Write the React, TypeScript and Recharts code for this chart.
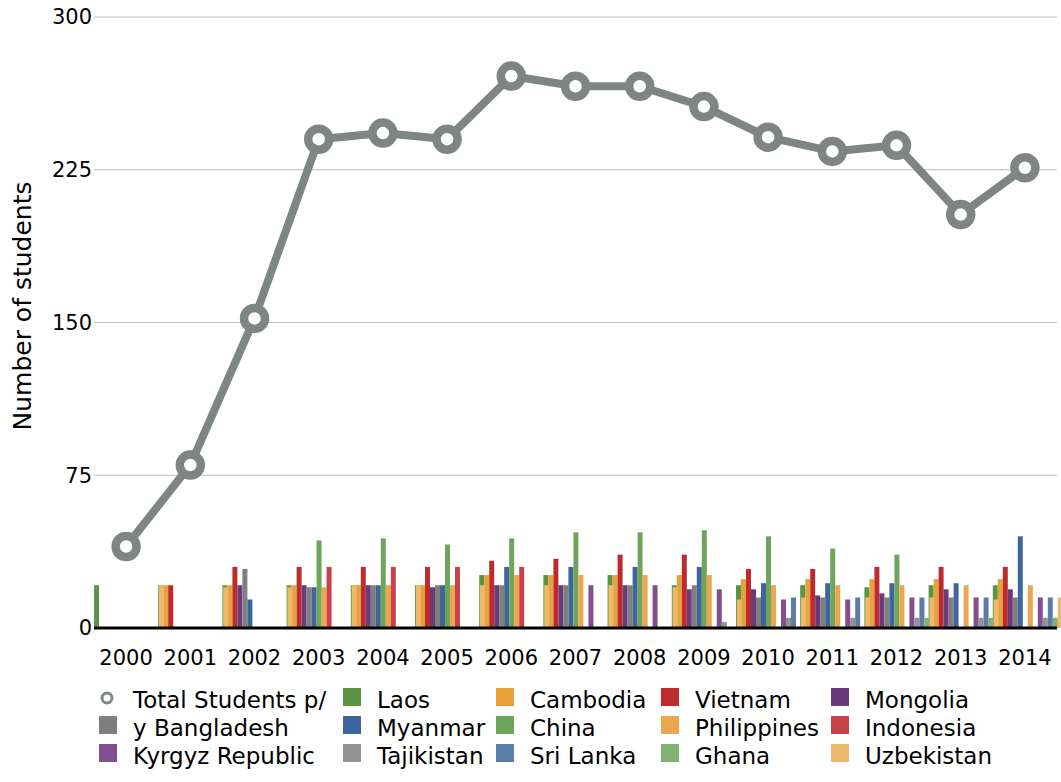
import { ComposedChart, Bar, Line, XAxis, YAxis, CartesianGrid } from "recharts";

const years = [
  "2000", "2001", "2002", "2003", "2004", "2005", "2006", "2007",
  "2008", "2009", "2010", "2011", "2012", "2013", "2014",
];

const totalStudents = [40, 80, 152, 240, 243, 240, 271, 266, 266, 256, 241, 234, 237, 203, 226];

const laos = [21, 21, 21, 21, 21, 21, 26, 26, 26, 21, 21, 21, 20, 21, 21];
const cambodia = [0, 21, 21, 21, 21, 21, 26, 26, 26, 26, 24, 24, 24, 24, 24];
const vietnam = [0, 21, 30, 30, 30, 30, 33, 34, 36, 36, 29, 29, 30, 30, 30];
const mongolia = [0, 0, 21, 21, 21, 20, 21, 21, 21, 19, 19, 16, 17, 19, 19];
const bangladesh = [0, 0, 29, 20, 21, 21, 21, 21, 21, 21, 15, 15, 15, 15, 15];
const myanmar = [0, 0, 14, 20, 21, 21, 30, 30, 30, 30, 22, 22, 22, 22, 45];
const china = [0, 0, 0, 43, 44, 41, 44, 47, 47, 48, 45, 39, 36, 0, 0];
const philippines = [0, 0, 0, 20, 21, 21, 26, 26, 26, 26, 21, 21, 21, 21, 21];
const indonesia = [0, 0, 0, 30, 30, 30, 30, 0, 0, 0, 0, 0, 0, 0, 0];
const kyrgyz = [0, 0, 0, 0, 0, 0, 0, 21, 21, 19, 14, 14, 15, 15, 15];
const tajikistan = [0, 0, 0, 0, 0, 0, 0, 0, 0, 3, 5, 5, 5, 5, 5];
const sriLanka = [0, 0, 0, 0, 0, 0, 0, 0, 0, 0, 15, 15, 15, 15, 15];
const ghana = [0, 0, 0, 0, 0, 0, 0, 0, 0, 0, 0, 0, 5, 5, 5];
const uzbekistan = [21, 20, 20, 21, 21, 21, 21, 21, 20, 14, 15, 15, 15, 14, 15];

const countries = [
  "Laos", "Cambodia", "Vietnam", "Mongolia", "Bangladesh", "Myanmar", "China",
  "Philippines", "Indonesia", "Kyrgyz Republic", "Tajikistan", "Sri Lanka", "Ghana", "Uzbekistan",
];
const countryValues = [
  laos, cambodia, vietnam, mongolia, bangladesh, myanmar, china,
  philippines, indonesia, kyrgyz, tajikistan, sriLanka, ghana, uzbekistan,
];
const countryColors = [
  "#5a9444", "#e8a23a", "#bd2b2e", "#6b3a7b", "#7f7f7f", "#3f6699", "#6ea55a",
  "#eca64f", "#c8424a", "#834f92", "#939393", "#597ea9", "#80b36d", "#efb96c",
];

const lineName = "Total Students p/y";
const lineColor = "#7f8682";
const yTicks = [0, 75, 150, 225, 300];

const chartData = years.map((year, i) => {
  const row: Record<string, string | number> = { year, total: totalStudents[i] };
  countries.forEach((c, k) => {
    row[c] = countryValues[k][i];
  });
  return row;
});

const FONT = "'DejaVu Sans', sans-serif";

const legendItems = [
  { name: lineName, color: lineColor, line: true },
  ...countries.map((name, k) => ({ name, color: countryColors[k], line: false })),
];
const legendCols = [244, 153, 165, 170, 200];

// the first legend label wraps after "p/" in the original, and the "y" runs into the next row
function LegendLabel({ name, wrapAt }: { name: string; wrapAt?: number }) {
  if (!wrapAt) return <span style={{ marginLeft: 16, lineHeight: "28px", whiteSpace: "nowrap" }}>{name}</span>;
  return (
    <span style={{ marginLeft: 16, position: "relative", lineHeight: "28px", whiteSpace: "nowrap" }}>
      <span>{name.slice(0, wrapAt)}</span>
      <span style={{ position: "absolute", left: 0, top: 28 }}>{name.slice(wrapAt)}</span>
    </span>
  );
}

function ChartLegend() {
  return (
    <div
      style={{
        position: "absolute",
        left: 99,
        top: 686,
        display: "grid",
        gridTemplateColumns: legendCols.map((w) => `${w}px`).join(" "),
        gridAutoRows: "28px",
        fontFamily: FONT,
        fontSize: 23,
        color: "#000",
      }}
    >
      {legendItems.map((item, i) => (
        <div key={item.name} style={{ display: "flex", alignItems: "flex-start", height: 28 }}>
          {item.line ? (
            <svg width={18} height={18} style={{ marginTop: 4, flex: "none" }}>
              <circle cx={8} cy={8} r={5} fill="#fff" stroke={item.color} strokeWidth={3} />
            </svg>
          ) : (
            <div style={{ width: 18, height: 18, marginTop: 2, background: item.color, flex: "none" }} />
          )}
          {item.name === "Bangladesh" ? (
            <span style={{ marginLeft: 37, lineHeight: "28px", whiteSpace: "nowrap" }}>{item.name}</span>
          ) : (
            <LegendLabel name={item.name} wrapAt={i === 0 ? 17 : undefined} />
          )}
        </div>
      ))}
    </div>
  );
}

export default function App() {
  return (
    <div style={{ position: "absolute", left: 0, top: 0, width: 1061, height: 782, background: "#fff" }}>
      <ComposedChart
        width={1061}
        height={782}
        data={chartData}
        margin={{ top: 17, right: 4, bottom: 0, left: 0 }}
        barCategoryGap={0}
        barGap={0}
      >
        <CartesianGrid horizontal vertical={false} stroke="#bdbdbd" strokeWidth={1} />
        <XAxis
          dataKey="year"
          height={154}
          interval={0}
          tickLine={false}
          tickMargin={16}
          axisLine={{ stroke: "#000", strokeWidth: 3 }}
          tick={{ fill: "#000", fontSize: 21, fontFamily: FONT }}
        />
        <YAxis
          width={94}
          domain={[0, 300]}
          ticks={yTicks}
          interval={0}
          axisLine={false}
          tickLine={false}
          tickSize={0}
          tickMargin={2}
          tick={{ fill: "#000", fontSize: 21, fontFamily: FONT }}
          label={{
            content: () => (
              <text
                x={22}
                y={306}
                transform="rotate(-90 22 306)"
                textAnchor="middle"
                dominantBaseline="central"
                fontSize={25}
                fontFamily={FONT}
                fill="#000"
              >
                Number of students
              </text>
            ),
          }}
        />
        {countries.map((c, k) => (
          <Bar key={c} dataKey={c} fill={countryColors[k]} isAnimationActive={false} />
        ))}
        <Line
          type="linear"
          dataKey="total"
          name={lineName}
          stroke={lineColor}
          strokeWidth={8}
          strokeLinejoin="round"
          dot={{ r: 10.5, fill: "#fff", stroke: lineColor, strokeWidth: 8.5 }}
          isAnimationActive={false}
        />
      </ComposedChart>
      <ChartLegend />
    </div>
  );
}
